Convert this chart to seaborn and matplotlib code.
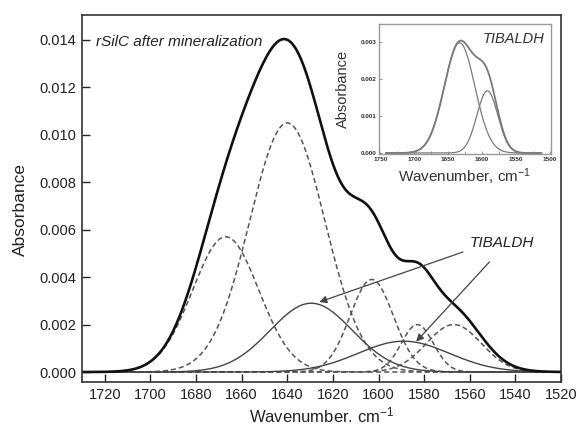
import numpy as np
import pandas as pd
import matplotlib
matplotlib.use('agg')
import matplotlib.pyplot as plt
import seaborn as sns

# fitted bands of the rSilC spectrum (centre cm-1, height, gaussian sigma)
band_center = [1667, 1640, 1603, 1583, 1567]
band_height = [0.0057, 0.0105, 0.0039, 0.0020, 0.0020]
band_sigma = [14.5, 16.5, 9.5, 7.0, 12.0]

# the two TIBALDH bands inside the rSilC fit
tib_center = [1629.5, 1589]
tib_height = [0.0029, 0.0013]
tib_sigma = [18.0, 20.0]

# inset: TIBALDH on its own
inset_center = [1633, 1592]
inset_height = [0.00298, 0.00168]
inset_sigma = [22.5, 15.5]

x_ticks = [1720, 1700, 1680, 1660, 1640, 1620, 1600, 1580, 1560, 1540, 1520]
y_ticks = [0.000, 0.002, 0.004, 0.006, 0.008, 0.010, 0.012, 0.014]
inset_x_ticks = [1750, 1700, 1650, 1600, 1550, 1500]
inset_y_ticks = [0.000, 0.001, 0.002, 0.003]


def band(wn, c, h, s):
    return h * np.exp(-(wn - c) ** 2 / (2 * s ** 2))


sns.set_style("ticks")
plt.rcParams['font.family'] = ['Liberation Sans', 'DejaVu Sans']
plt.rcParams['mathtext.fontset'] = 'custom'
plt.rcParams['mathtext.rm'] = 'Liberation Sans'
plt.rcParams['mathtext.default'] = 'rm'

fig = plt.figure(figsize=(5.79, 4.29), dpi=100)
ax = fig.add_axes([0.1416, 0.1096, 0.8274, 0.8554])

wn = np.linspace(1730, 1520, 600)
comps = [band(wn, c, h, s) for c, h, s in zip(band_center, band_height, band_sigma)]
tibs = [band(wn, c, h, s) for c, h, s in zip(tib_center, tib_height, tib_sigma)]
total = np.sum(comps, axis=0) + np.sum(tibs, axis=0)

for y in comps:
    sns.lineplot(x=wn, y=y, ax=ax, color='#555555', lw=1.1,
                 linestyle=(0, (3.3, 2.0)), sort=False)
for y in tibs:
    sns.lineplot(x=wn, y=y, ax=ax, color='#444444', lw=1.0, sort=False)
sns.lineplot(x=wn, y=total, ax=ax, color='#111111', lw=1.9, sort=False)

ax.set_xlim(1730, 1520)
ax.set_ylim(-0.00042, 0.01505)
ax.set_xticks(x_ticks)
ax.set_yticks(y_ticks)
ax.set_yticklabels([f"{v:.3f}" for v in y_ticks])
ax.tick_params(direction='in', length=6, width=1, labelsize=10.5, colors='#222222', pad=4)
for sp in ax.spines.values():
    sp.set_color('#333333')
    sp.set_linewidth(1.2)

ax.set_xlabel("Wavenumber. cm$^{-1}$", fontsize=12, color='#222222')
ax.set_ylabel("Absorbance", fontsize=12.5, color='#222222')
ax.xaxis.set_label_coords(0.5, -0.063)
ax.yaxis.set_label_coords(-0.112, 0.471)

ax.text(1723.7, 0.01393, "rSilC after mineralization", style='italic', fontsize=11,
        color='#222222', ha='left', va='center')
ax.text(1546, 0.00544, "TIBALDH", style='italic', fontsize=11, color='#222222',
        ha='center', va='center')
arrow = dict(arrowstyle='-|>', color='#444444', lw=0.9, mutation_scale=11, shrinkA=0, shrinkB=0)
ax.annotate("", xy=(1626, 0.00295), xytext=(1563, 0.00506), arrowprops=arrow)
ax.annotate("", xy=(1583.5, 0.00128), xytext=(1551.4, 0.00464), arrowprops=arrow)

# inset
ins = fig.add_axes([0.6546, 0.6399, 0.2971, 0.3053])
wn_in = np.linspace(1742, 1512, 400)
in_comps = [band(wn_in, c, h, s) for c, h, s in zip(inset_center, inset_height, inset_sigma)]
in_total = np.sum(in_comps, axis=0)
for y in in_comps:
    sns.lineplot(x=wn_in, y=y, ax=ins, color='#7a7a7a', lw=0.9, sort=False)
sns.lineplot(x=wn_in, y=in_total, ax=ins, color='#7a7a7a', lw=1.3, sort=False)

ins.set_xlim(1752, 1498)
ins.set_ylim(-0.00004, 0.0035)
ins.set_xticks(inset_x_ticks)
ins.set_yticks(inset_y_ticks)
ins.set_yticklabels([f"{v:.3f}" for v in inset_y_ticks])
ins.set_xticks([1725, 1675, 1625, 1575, 1525], minor=True)
ins.tick_params(which='both', direction='in', length=2.5, width=0.6, colors='#888888',
                labelsize=4.6, labelcolor='#333333', pad=2)
for lab in ins.get_xticklabels() + ins.get_yticklabels():
    lab.set_fontweight('bold')
for sp in ins.spines.values():
    sp.set_color('#999999')
    sp.set_linewidth(1.0)
ins.set_xlabel("Wavenumber, cm$^{-1}$", fontsize=11, color='#333333')
ins.set_ylabel("Absorbance", fontsize=10.5, color='#333333')
ins.xaxis.set_label_coords(0.5, -0.09)
ins.yaxis.set_label_coords(-0.17, 0.5)
ins.text(0.96, 0.88, "TIBALDH", transform=ins.transAxes, style='italic', fontsize=10.5,
         color='#333333', ha='right', va='center')

fig.savefig("out.png", dpi=100)
